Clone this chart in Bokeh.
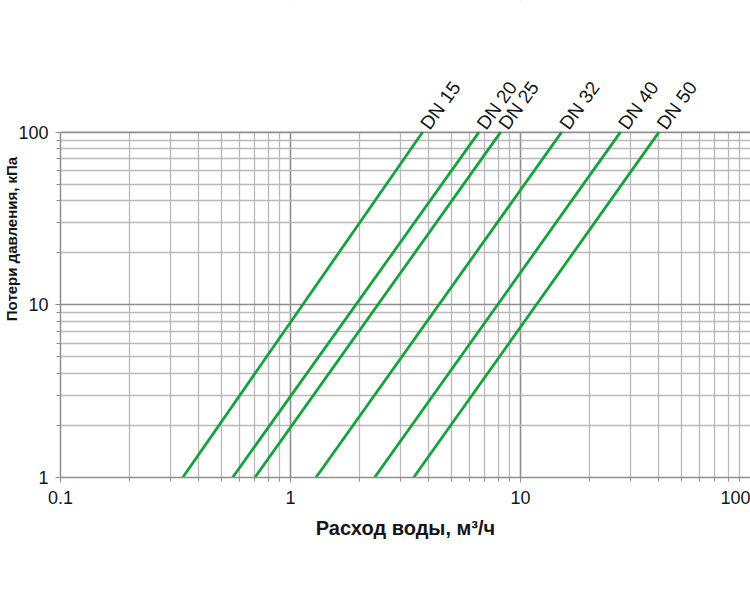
from bokeh.plotting import figure
from bokeh.models import Label, FixedTicker, BasicTickFormatter, BoxAnnotation, Span
from bokeh.embed import file_html
from bokeh.resources import INLINE

# ---- data ----
series_names = ["DN 15", "DN 20", "DN 25", "DN 32", "DN 40", "DN 50"]
flow_at_1kpa = [0.34, 0.56, 0.70, 1.29, 2.32, 3.43]      # m3/h at 1 kPa
flow_at_100kpa = [3.75, 6.6, 8.2, 15.1, 27.2, 40.0]      # m3/h at 100 kPa
pressure_low = 1
pressure_high = 100
x_major = [0.1, 1, 10, 100]
y_major = [1, 10, 100]
x_title = "Расход воды, м³/ч"
y_title = "Потери давления, кПа"

FONT = "Liberation Sans"
GREEN = "#15a23e"
MAJOR = "#8e8e8e"
MINOR = "#b9b9b9"
TXT = "#151515"

# the frame reaches the top of the page so that the rotated DN labels
# (annotations are clipped to the frame) stay visible above the 100 line
Y_TOP = 579.0


def minors(lo_exp, hi_exp):
    out = []
    for e in range(lo_exp, hi_exp):
        for k in range(2, 10):
            out.append(k * 10.0 ** e)
    return out


p = figure(width=750, height=600, x_axis_type="log", y_axis_type="log",
           x_range=(0.1, 100), y_range=(pressure_low, Y_TOP),
           output_backend="svg", toolbar_location=None,
           min_border_left=58, min_border_right=0,
           min_border_top=0, min_border_bottom=123)
p.background_fill_color = "white"
p.border_fill_color = "white"
p.outline_line_color = None

p.xaxis.ticker = FixedTicker(ticks=x_major, minor_ticks=minors(-1, 2))
p.yaxis.ticker = FixedTicker(ticks=y_major, minor_ticks=minors(0, 2))
p.xaxis.formatter = BasicTickFormatter()
p.yaxis.formatter = BasicTickFormatter()
p.yaxis.bounds = (pressure_low, pressure_high)

for g in (p.xgrid, p.ygrid):
    g.grid_line_color = MAJOR
    g.grid_line_width = 1.6
    g.minor_grid_line_color = MINOR
    g.minor_grid_line_width = 1.3

for ax in (p.xaxis, p.yaxis):
    ax.axis_line_color = MAJOR
    ax.axis_line_width = 1.5
    ax.major_tick_line_color = MAJOR
    ax.minor_tick_line_color = MAJOR
    ax.major_tick_out = 5
    ax.major_tick_in = 0
    ax.minor_tick_out = 4
    ax.minor_tick_in = 0
    ax.major_label_text_font = FONT
    ax.major_label_text_font_size = "18px"
    ax.major_label_text_color = TXT
    ax.major_label_standoff = 8

p.xaxis.axis_label = x_title
p.xaxis.axis_label_text_font = FONT
p.xaxis.axis_label_text_font_size = "20px"
p.xaxis.axis_label_text_font_style = "bold"
p.xaxis.axis_label_text_color = TXT
p.xaxis.axis_label_standoff = 10

p.yaxis.major_label_standoff = 7
p.yaxis.axis_label = y_title
p.yaxis.axis_label_text_font = FONT
p.yaxis.axis_label_text_font_size = "15px"
p.yaxis.axis_label_text_font_style = "bold"
p.yaxis.axis_label_text_color = TXT
p.yaxis.axis_label_standoff = -5

# white cover above the 100 kPa line, and that line as the chart's top edge
p.add_layout(BoxAnnotation(bottom=pressure_high, top=Y_TOP * 10, left=0.01, right=1000,
                           fill_color="white", fill_alpha=1.0,
                           line_color=None, level="underlay"))
p.add_layout(Span(location=pressure_high, dimension="width", line_color=MAJOR,
                  line_width=1.6, level="underlay"))

for name, x1, x2 in zip(series_names, flow_at_1kpa, flow_at_100kpa):
    p.line(x=[x1, x2], y=[pressure_low, pressure_high], line_color=GREEN, line_width=2.8)
    p.add_layout(Label(x=x2, y=pressure_high, text=name, angle=54, angle_units="deg",
                       text_align="left", text_baseline="alphabetic",
                       text_font=FONT, text_font_size="19px", text_color=TXT,
                       x_offset=2, y_offset=5))

open("out.html", "w").write(file_html(p, INLINE))
